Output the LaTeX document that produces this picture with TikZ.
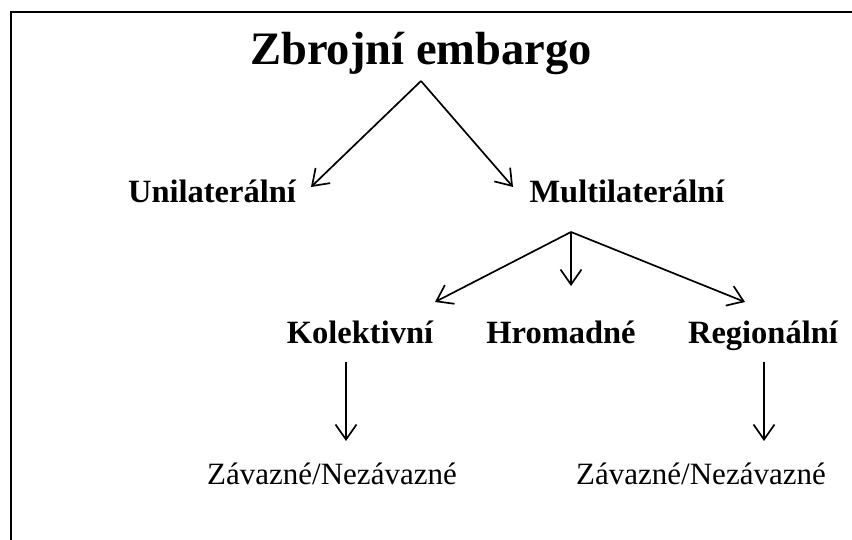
\documentclass[tikz,border=0pt]{standalone}
\usepackage{fontspec}
\setmainfont{Liberation Serif}
\usetikzlibrary{arrows.meta}
\tikzset{
  lbl/.style={anchor=base, inner sep=0pt, text=black},
  big/.style={lbl, font=\fontsize{46.5}{50}\selectfont\bfseries},
  mid/.style={lbl, font=\fontsize{32.5}{36}\selectfont\bfseries},
  low/.style={lbl, font=\fontsize{31}{34}\selectfont},
  arr/.style={draw=black, line width=1.7pt, -{Straight Barb[length=15pt,width=21pt,line width=1.7pt]}},
  frame/.style={draw=black, line width=2pt}
}
\begin{document}
\begin{tikzpicture}[x=1pt,y=-1pt]
\useasboundingbox (0,0) rectangle (852,540);
\fill[white] (0,0) rectangle (852,540);
% frame (only left and top edges visible)
\coordinate (fbl) at (11,541);
\coordinate (ftl) at (11,12);
\coordinate (ftr) at (853,12);
\draw[frame] (fbl) -- (ftl) -- (ftr);
% texts
\node[big] (title) at (421,65) {Zbrojní embargo};
\node[mid] (uni) at (212,203) {Unilaterální};
\node[mid] (multi) at (627,203) {Multilaterální};
\node[mid] (kol) at (360,343) {Kolektivní};
\node[mid] (hrom) at (561,343) {Hromadné};
\node[mid] (reg) at (763,343) {Regionální};
\node[low] (zav1) at (332,484) {Závazné/Nezávazné};
\node[low] (zav2) at (701,484) {Závazné/Nezávazné};
% arrow start / end points
\coordinate (apex) at (421,81);
\coordinate (tuni) at (311,187);
\coordinate (tmulti) at (513,187);
\coordinate (mroot) at (571,232);
\coordinate (tkol) at (435,302);
\coordinate (throm) at (571,286);
\coordinate (treg) at (745,302);
\coordinate (skol) at (346,362);
\coordinate (tzav1) at (346,441);
\coordinate (sreg) at (764,362);
\coordinate (tzav2) at (764,441);
% connectors
\draw[arr] (apex) -- (tuni);
\draw[arr] (apex) -- (tmulti);
\draw[arr] (mroot) -- (tkol);
\draw[arr] (mroot) -- (throm);
\draw[arr] (mroot) -- (treg);
\draw[arr] (skol) -- (tzav1);
\draw[arr] (sreg) -- (tzav2);
\end{tikzpicture}
\end{document}
